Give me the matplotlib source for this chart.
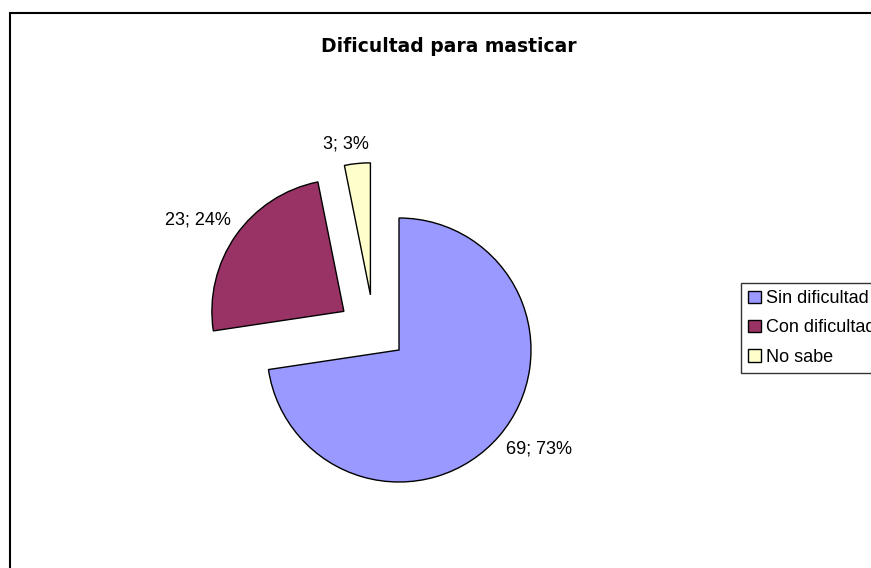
import numpy as np
import matplotlib
matplotlib.use("Agg")
import matplotlib.pyplot as plt
from matplotlib.patches import Rectangle

# datos del grafico
categorias = ['Sin dificultad', 'Con dificultad', 'No sabe']
valores = [69, 23, 3]
porcentajes = [73, 24, 3]
colores = ['#9999FF', '#993366', '#FFFFCC']

plt.rcParams['font.family'] = ['Liberation Sans', 'DejaVu Sans']

fig = plt.figure(figsize=(8.71, 5.68), dpi=100)

# marco del area del grafico (cortado a la derecha y abajo)
fig.patches.append(Rectangle((10 / 871, -0.1), 1.2, 1.1 - 13 / 568, transform=fig.transFigure,
                             fill=False, edgecolor='black', linewidth=1.5))

# ejes cuadrados con el centro del pastel en (399, 350) px
r_px = 132
lado = 3 * r_px
ax = fig.add_axes([(399 - lado / 2) / 871, (568 - 350 - lado / 2) / 568, lado / 871, lado / 568])

etiquetas = [f'{v}; {p}%' for v, p in zip(valores, porcentajes)]
wedges, textos = ax.pie(valores, colors=colores, startangle=90, counterclock=False,
                        explode=[0, 0.51, 0.47], labels=etiquetas, labeldistance=1.1,
                        wedgeprops=dict(edgecolor='black', linewidth=1),
                        textprops=dict(fontsize=13))
ax.set_xlim(-1.5, 1.5)
ax.set_ylim(-1.5, 1.5)
ax.axis('off')

# Excel desplaza la porcion pequena un poco hacia la izquierda
dx, dy = -0.17, -0.05
cx, cy = wedges[2].center
wedges[2].set_center((cx + dx, cy + dy))
textos[2].set_ha('center')

# pequenos ajustes de posicion de las etiquetas (como en Excel)
ajustes = [(-0.02, -0.03), (0.045, 0.06), (dx - 0.075, dy + 0.05)]
for t, (ax_, ay_) in zip(textos, ajustes):
    tx, ty = t.get_position()
    t.set_position((tx + ax_, ty + ay_))

fig.text(449 / 871, 1 - 47 / 568, 'Dificultad para masticar', ha='center', va='center',
         fontsize=13.5, fontweight='bold', family='DejaVu Sans')

# leyenda cortada por el borde derecho, como en la imagen original
leg = fig.legend(wedges, categorias, loc='upper left', bbox_to_anchor=(741 / 871, 1 - 283 / 568),
                 fontsize=13, frameon=True, fancybox=False, handlelength=0.7, handleheight=0.7,
                 handletextpad=0.3, labelspacing=0.68, borderpad=0.4, borderaxespad=0)
leg.get_frame().set_edgecolor('black')
leg.get_frame().set_linewidth(1)

fig.savefig('out.png', dpi=100)
